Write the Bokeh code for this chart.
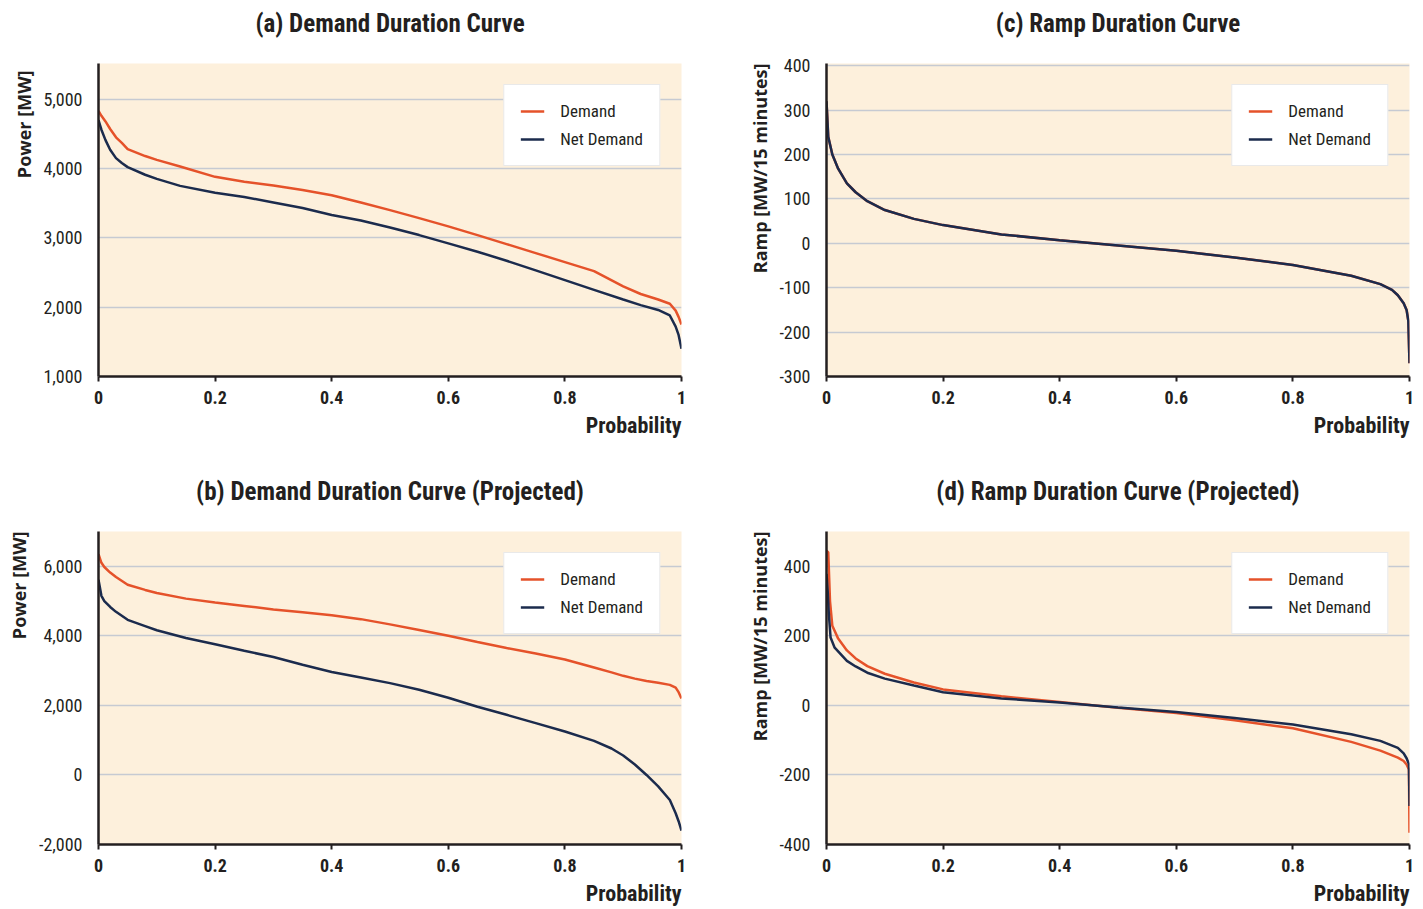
from bokeh.plotting import figure
from bokeh.layouts import gridplot
from bokeh.models import FixedTicker, NumeralTickFormatter, Range1d, Legend, LegendItem, Title
from bokeh.embed import file_html
from bokeh.resources import INLINE

# ---------------- data ----------------
a_x = [0, 0.005, 0.012, 0.02, 0.03, 0.04, 0.05, 0.08, 0.1, 0.14, 0.2, 0.25, 0.3, 0.35, 0.4, 0.45, 0.5, 0.55, 0.6, 0.65, 0.7, 0.75, 0.8, 0.85, 0.9, 0.93, 0.96, 0.98, 0.99, 0.995, 1.0]
a_demand = [4830, 4760, 4680, 4570, 4450, 4370, 4280, 4180, 4125, 4030, 3880, 3810, 3755, 3690, 3615, 3510, 3400, 3285, 3165, 3040, 2910, 2780, 2650, 2520, 2300, 2190, 2110, 2050, 1950, 1860, 1750]
a_net = [4700, 4560, 4410, 4270, 4150, 4080, 4020, 3910, 3850, 3750, 3650, 3590, 3510, 3430, 3330, 3250, 3150, 3040, 2920, 2800, 2670, 2530, 2390, 2250, 2110, 2030, 1960, 1880, 1720, 1600, 1400]

b_x = [0, 0.005, 0.01, 0.02, 0.03, 0.05, 0.08, 0.1, 0.15, 0.2, 0.25, 0.3, 0.35, 0.4, 0.45, 0.5, 0.55, 0.6, 0.65, 0.7, 0.75, 0.8, 0.85, 0.88, 0.9, 0.92, 0.94, 0.96, 0.98, 0.99, 0.995, 1.0]
b_demand = [6350, 6100, 5980, 5820, 5690, 5470, 5320, 5230, 5070, 4960, 4860, 4760, 4680, 4590, 4480, 4330, 4170, 4000, 3820, 3650, 3490, 3320, 3090, 2950, 2850, 2770, 2700, 2650, 2590, 2510, 2380, 2200]
b_net = [5610, 5150, 5000, 4830, 4690, 4460, 4280, 4160, 3940, 3760, 3570, 3390, 3170, 2960, 2800, 2640, 2450, 2220, 1960, 1730, 1490, 1250, 980, 760, 560, 300, 0, -330, -720, -1100, -1330, -1600]

c_x = [0, 0.003, 0.01, 0.02, 0.035, 0.05, 0.07, 0.1, 0.15, 0.2, 0.3, 0.4, 0.5, 0.6, 0.7, 0.8, 0.9, 0.95, 0.97, 0.98, 0.99, 0.995, 0.998, 1.0]
c_net = [320, 240, 200, 168, 135, 115, 95, 75, 55, 41, 20, 7, -5, -17, -32, -49, -73, -92, -105, -117, -135, -150, -175, -270]
# the demand ramp curve lies hidden underneath the net-demand curve in the reference
c_demand = [320, 240, 200, 168, 135, 115, 95, 75, 55, 41, 20, 7, -5, -17, -32, -49, -73, -92, -105, -117, -135, -150, -175, -270]

d_x_demand = [0, 0.003, 0.006, 0.01, 0.02, 0.035, 0.05, 0.07, 0.1, 0.15, 0.2, 0.3, 0.4, 0.5, 0.6, 0.7, 0.8, 0.9, 0.95, 0.98, 0.99, 0.995, 0.999, 1.0]
d_demand = [445, 440, 300, 229, 192, 158, 135, 113, 91, 66, 46, 26, 10, -7, -22, -43, -66, -105, -130, -150, -160, -170, -184, -366]
d_x_net = [0, 0.002, 0.004, 0.007, 0.014, 0.035, 0.05, 0.07, 0.1, 0.15, 0.2, 0.3, 0.4, 0.5, 0.6, 0.7, 0.8, 0.9, 0.95, 0.98, 0.99, 0.995, 0.999, 1.0]
d_net = [378, 330, 263, 195, 166, 128, 112, 94, 77, 57, 38, 20, 8, -6, -19, -36, -55, -83, -102, -122, -138, -152, -169, -289]

x_ticks = [0, 0.2, 0.4, 0.6, 0.8, 1.0]
a_ticks = [1000, 2000, 3000, 4000, 5000]
b_ticks = [-2000, 0, 2000, 4000, 6000]
c_ticks = [-300, -200, -100, 0, 100, 200, 300, 400]
d_ticks = [-400, -200, 0, 200, 400]

titles = ["(a) Demand Duration Curve", "(b) Demand Duration Curve (Projected)",
          "(c) Ramp Duration Curve", "(d) Ramp Duration Curve (Projected)"]
ylabels = ["Power [MW]", "Power [MW]", "Ramp [MW/15 minutes]", "Ramp [MW/15 minutes]"]
xlabel = "Probability"
series_names = ["Demand", "Net Demand"]

# ---------------- style ----------------
ORANGE = "#E5522A"
NAVY = "#1B2B4D"
BG = "#FDF0DC"
DARK = "#231F20"
GRID = "#C6CAD2"
NARROW = "Roboto Condensed, Roboto"
WIDE = "Open Sans"


def panel(title, ylabel, yr, yticks, yfmt, xd, yd, xn, yn, width, height, left, top, right, bottom,
          ylab_standoff, ylab_offset):
    p = figure(width=width, height=height, x_range=Range1d(0, 1), y_range=Range1d(*yr),
               output_backend="svg", toolbar_location=None, title=None,
               min_border_left=left, min_border_top=top, min_border_right=right, min_border_bottom=bottom)
    p.background_fill_color = BG
    p.border_fill_color = "white"
    p.outline_line_color = None

    # spacer between the frame and the title, then the title itself
    p.add_layout(Title(text=" ", text_font_size="10px", standoff=13), "above")
    p.add_layout(Title(text=title, align="center", text_font=NARROW, text_font_size="25px",
                       text_font_style="bold", text_color=DARK, standoff=0), "above")

    p.xgrid.grid_line_color = None
    p.ygrid.grid_line_color = GRID
    p.ygrid.grid_line_width = 1.5

    p.xaxis.ticker = FixedTicker(ticks=x_ticks)
    p.xaxis.formatter = NumeralTickFormatter(format="0.[0]")
    p.yaxis.ticker = FixedTicker(ticks=yticks)
    p.yaxis.formatter = NumeralTickFormatter(format=yfmt)
    for ax in (p.xaxis[0], p.yaxis[0]):
        ax.axis_line_color = DARK
        ax.axis_line_width = 2.5
        ax.major_label_text_color = DARK
        ax.major_label_text_font = NARROW
        ax.major_label_text_font_size = "18px"
        ax.minor_tick_line_color = None
    p.xaxis.major_tick_line_color = DARK
    p.xaxis.major_tick_line_width = 2
    p.xaxis.major_tick_out = 5
    p.xaxis.major_tick_in = 0
    p.xaxis.major_label_standoff = 9
    p.xaxis.major_label_text_font_style = "bold"

    p.yaxis.major_tick_line_color = None
    p.yaxis.major_label_standoff = 10

    p.add_layout(Title(text=xlabel, align="right", text_font=NARROW, text_font_size="22px",
                       text_font_style="bold", text_color=DARK, standoff=8), "below")
    p.add_layout(Title(text=ylabel, align="right", text_font=WIDE, text_font_size="18px",
                       text_font_style="bold", text_color=DARK, standoff=ylab_standoff,
                       offset=ylab_offset), "left")

    r1 = p.line(xd, yd, line_color=ORANGE, line_width=2.5)
    r2 = p.line(xn, yn, line_color=NAVY, line_width=2.5)

    leg = Legend(items=[LegendItem(label=series_names[0], renderers=[r1]),
                        LegendItem(label=series_names[1], renderers=[r2])],
                 location="top_right")
    leg.margin = 21
    leg.padding = 16
    leg.spacing = 8
    leg.glyph_width = 24
    leg.glyph_height = 20
    leg.label_height = 20
    leg.label_standoff = 16
    leg.label_text_font = NARROW
    leg.label_text_font_size = "17px"
    leg.label_text_color = DARK
    leg.border_line_color = "#D4D4D4"
    leg.border_line_width = 1
    leg.background_fill_color = "white"
    leg.background_fill_alpha = 1.0
    p.add_layout(leg)
    return p


pa = panel(titles[0], ylabels[0], (1000, 5515), a_ticks, "0,0", a_x, a_demand, a_x, a_net,
           711, 459, 98, 62, 30, 82, 9, 7)
pc = panel(titles[2], ylabels[2], (-300, 405), c_ticks, "0", c_x, c_demand, c_x, c_net,
           712, 459, 115, 63, 14, 83, 9, 0)
pb = panel(titles[1], ylabels[1], (-2000, 7000), b_ticks, "0,0", b_x, b_demand, b_x, b_net,
           711, 450, 98, 72, 30, 64, 9, 0)
pd_ = panel(titles[3], ylabels[3], (-400, 500), d_ticks, "0", d_x_demand, d_demand, d_x_net, d_net,
            712, 450, 115, 72, 14, 64, 9, 0)

grid = gridplot([[pa, pc], [pb, pd_]], toolbar_location=None)

open("out.html", "w").write(file_html(grid, INLINE))
